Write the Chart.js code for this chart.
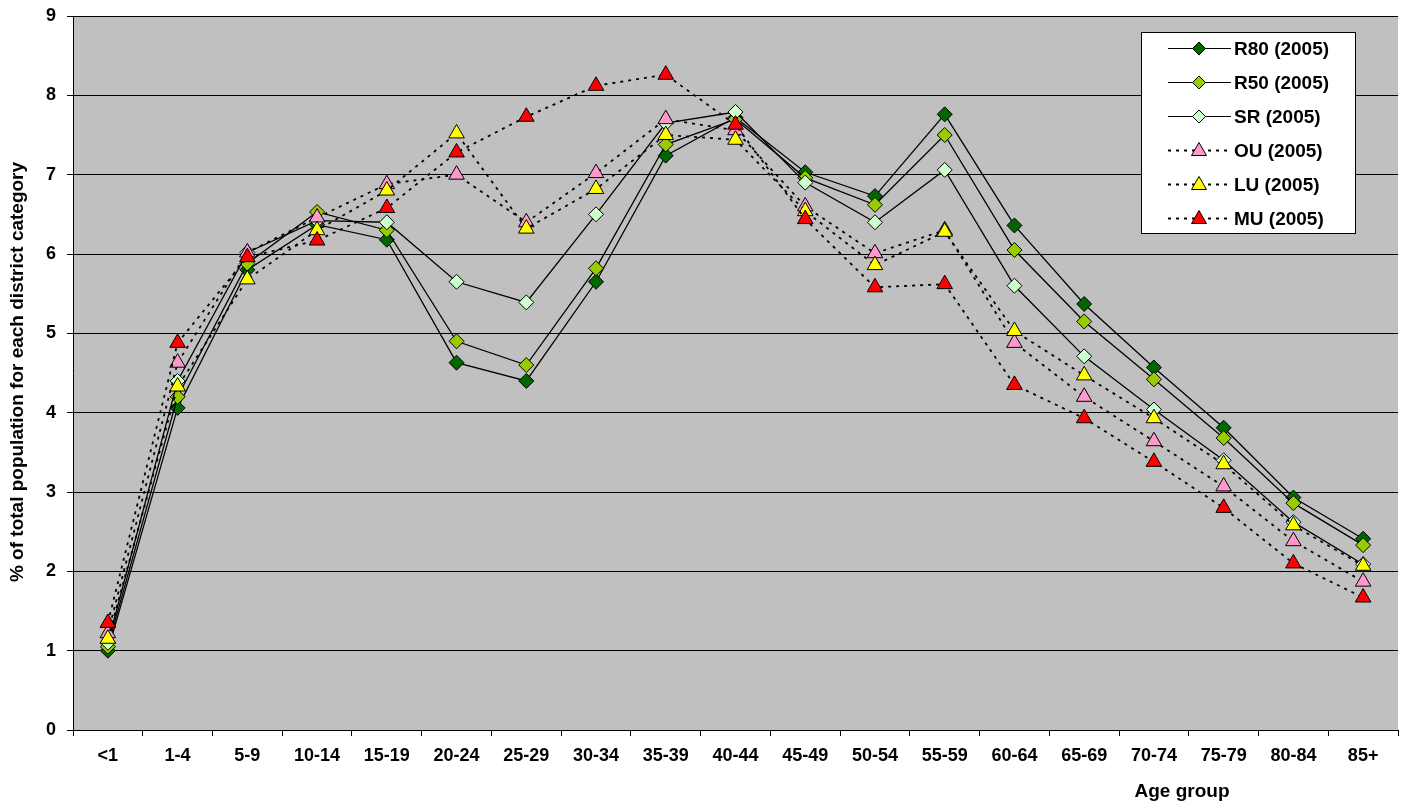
<!DOCTYPE html>
<html>
<head>
<meta charset="utf-8">
<title>Age structure by district category (2005)</title>
<script src="https://cdn.jsdelivr.net/npm/chart.js@4/dist/chart.umd.min.js"></script>
<style>
  html, body { margin: 0; padding: 0; background: #fff; }
  #wrap { width: 1408px; height: 805px; }
</style>
</head>
<body>
<div id="wrap"><canvas id="ageChart" width="1408" height="805"></canvas></div>
<script>
const ageGroups = ['<1', '1-4', '5-9', '10-14', '15-19', '20-24', '25-29', '30-34', '35-39', '40-44',
  '45-49', '50-54', '55-59', '60-64', '65-69', '70-74', '75-79', '80-84', '85+'];

// % of total population per district category
const r80 = [1.00, 4.06, 5.80, 6.37, 6.18, 4.63, 4.40, 5.65, 7.24, 7.72, 7.03, 6.73, 7.76, 6.36, 5.37, 4.57, 3.81, 2.93, 2.41];
const r50 = [1.05, 4.20, 5.88, 6.53, 6.30, 4.90, 4.60, 5.82, 7.38, 7.70, 6.96, 6.62, 7.50, 6.05, 5.15, 4.42, 3.68, 2.86, 2.33];
const sr  = [1.10, 4.40, 6.02, 6.42, 6.40, 5.65, 5.39, 6.50, 7.65, 7.79, 6.90, 6.40, 7.06, 5.60, 4.71, 4.04, 3.40, 2.62, 2.09];
const ou  = [1.22, 4.63, 6.02, 6.46, 6.88, 7.00, 6.40, 7.02, 7.70, 7.56, 6.60, 6.01, 6.30, 4.88, 4.20, 3.64, 3.07, 2.38, 1.87];
const lu  = [1.15, 4.33, 5.68, 6.30, 6.80, 7.52, 6.32, 6.82, 7.50, 7.44, 6.54, 5.86, 6.28, 5.03, 4.47, 3.93, 3.35, 2.58, 2.07];
const mu  = [1.35, 4.88, 5.96, 6.17, 6.58, 7.28, 7.73, 8.12, 8.26, 7.63, 6.44, 5.58, 5.62, 4.35, 3.93, 3.38, 2.80, 2.10, 1.67];

const seriesNames = ['R80 (2005)', 'R50 (2005)', 'SR (2005)', 'OU (2005)', 'LU (2005)', 'MU (2005)'];
const seriesColors = ['#006600', '#99cc00', '#ccffcc', '#ff99cc', '#ffff00', '#ff0000'];

const FONT = '"Liberation Sans", Arial, sans-serif';

function makeSet(i, data, rural) {
  return {
    label: seriesNames[i],
    data: data,
    borderColor: '#000',
    borderWidth: rural ? 1.3 : 1.8,
    borderDash: rural ? [] : [3, 5],
    pointStyle: rural ? 'rectRot' : 'triangle',
    pointRadius: rural ? 7.5 : 9,
    pointHoverRadius: rural ? 7.5 : 9,
    pointBackgroundColor: seriesColors[i],
    pointBorderColor: '#000',
    pointBorderWidth: 1,
    tension: 0,
    fill: false,
    order: 6 - i
  };
}

// grey plot area
const plotBg = {
  id: 'plotBg',
  beforeDraw(chart) {
    const { ctx, chartArea: a } = chart;
    ctx.save();
    ctx.fillStyle = '#c0c0c0';
    ctx.fillRect(a.left, a.top, a.right - a.left, a.bottom - a.top);
    ctx.restore();
  }
};

function drawMarkerPath(ctx, style, x, y) {
  if (style === 'triangle') {
    ctx.moveTo(x, y - 8);
    ctx.lineTo(x + 7.5, y + 5);
    ctx.lineTo(x - 7.5, y + 5);
    ctx.closePath();
  } else {
    ctx.moveTo(x, y - 6.5);
    ctx.lineTo(x + 6.5, y);
    ctx.lineTo(x, y + 6.5);
    ctx.lineTo(x - 6.5, y);
    ctx.closePath();
  }
}

// boxed legend inside the plot, plus the axis captions
const captions = {
  id: 'captions',
  afterDraw(chart) {
    const ctx = chart.ctx;
    const bx = 1141, by = 32, bw = 214, bh = 201;
    ctx.save();
    ctx.fillStyle = '#fff';
    ctx.fillRect(bx, by, bw, bh);
    ctx.strokeStyle = '#000';
    ctx.lineWidth = 1;
    ctx.strokeRect(bx + 0.5, by + 0.5, bw, bh);

    ctx.font = 'bold 19px ' + FONT;
    ctx.textBaseline = 'middle';
    chart.data.datasets.forEach((ds, i) => {
      const y = by + 16.5 + i * 34;
      ctx.beginPath();
      ctx.setLineDash(ds.borderDash);
      ctx.lineWidth = ds.borderDash.length ? 2 : 1;
      ctx.strokeStyle = '#000';
      ctx.moveTo(bx + 27, y);
      ctx.lineTo(bx + 90, y);
      ctx.stroke();
      ctx.setLineDash([]);
      ctx.fillStyle = ds.pointBackgroundColor;
      ctx.lineWidth = 1;
      ctx.beginPath();
      drawMarkerPath(ctx, ds.pointStyle, bx + 58, y);
      ctx.fill();
      ctx.stroke();
      ctx.fillStyle = '#000';
      ctx.textAlign = 'left';
      ctx.fillText(ds.label, bx + 93, y + 1);
    });

    ctx.textAlign = 'center';
    ctx.fillText('Age group', 1182, 792);

    ctx.translate(18, 372);
    ctx.rotate(-Math.PI / 2);
    ctx.fillText('% of total population for each district category', 0, 0);
    ctx.restore();
  }
};

new Chart(document.getElementById('ageChart'), {
  type: 'line',
  data: {
    labels: ageGroups,
    datasets: [
      makeSet(0, r80, true),
      makeSet(1, r50, true),
      makeSet(2, sr, true),
      makeSet(3, ou, false),
      makeSet(4, lu, false),
      makeSet(5, mu, false)
    ]
  },
  options: {
    responsive: false,
    animation: false,
    layout: { padding: { top: 16, right: 9, left: 0, bottom: 0 } },
    plugins: {
      legend: { display: false },
      title: { display: false },
      tooltip: { enabled: false }
    },
    scales: {
      x: {
        offset: true,
        grid: { offset: true, drawOnChartArea: false, drawTicks: true, tickLength: 6, color: '#000' },
        border: { display: true, color: '#000', width: 1 },
        ticks: { color: '#000', font: { family: FONT, size: 18, weight: 'bold' }, padding: 9, maxRotation: 0, autoSkip: false },
        afterFit(scale) { scale.height = 75; }
      },
      y: {
        min: 0,
        max: 9,
        ticks: { stepSize: 1, color: '#000', font: { family: FONT, size: 18, weight: 'bold' }, padding: 11 },
        grid: { color: '#000', lineWidth: 1, tickLength: 6 },
        border: { display: true, color: '#000', width: 1 },
        afterFit(scale) {
          scale.width = 73;
          scale.paddingTop = 0;
          scale.paddingBottom = 0;
        }
      }
    }
  },
  plugins: [plotBg, captions]
});
</script>
</body>
</html>
